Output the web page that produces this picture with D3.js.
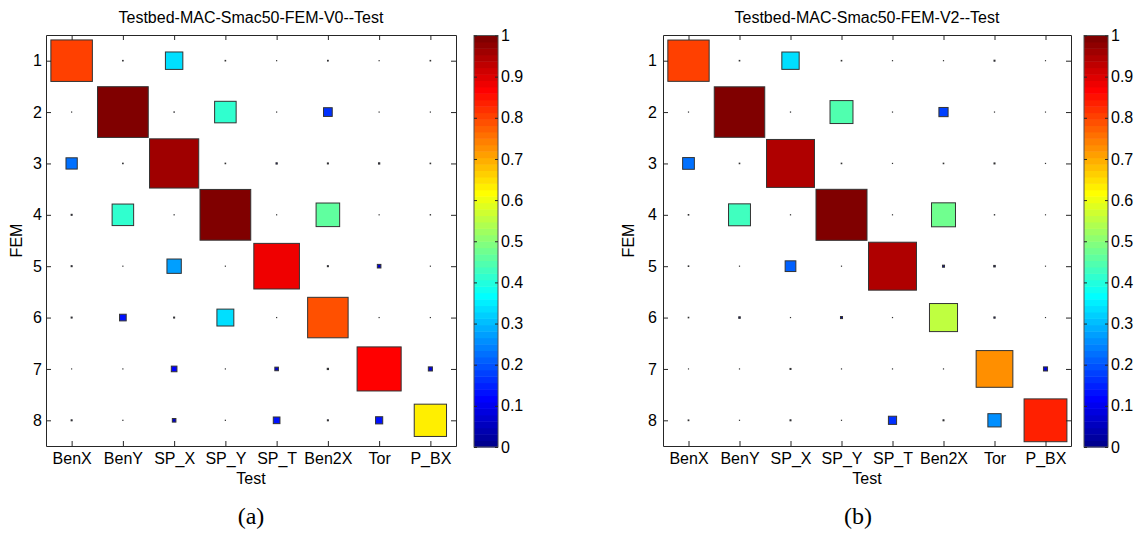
<!DOCTYPE html>
<html>
<head>
<meta charset="utf-8">
<script src="https://cdn.jsdelivr.net/npm/d3@7"></script>
<style>
  html, body { margin: 0; padding: 0; background: #fff; }
  svg { display: block; }
  text { font-family: "Liberation Sans", Arial, sans-serif; fill: #000; }
</style>
</head>
<body>
<svg id="chart" width="1142" height="535"></svg>
<script>
// ---------------- data ----------------
const tests = ["BenX", "BenY", "SP_X", "SP_Y", "SP_T", "Ben2X", "Tor", "P_BX"];
const femModes = [1, 2, 3, 4, 5, 6, 7, 8];
const colorbarTicks = [0, 0.1, 0.2, 0.3, 0.4, 0.5, 0.6, 0.7, 0.8, 0.9, 1];
const colorbarTickLabels = ["0", "0.1", "0.2", "0.3", "0.4", "0.5", "0.6", "0.7", "0.8", "0.9", "1"];

// MAC values, rows = FEM mode 1..8, columns = tests
const macV0 = [
  [0.81, 0.012, 0.34, 0.012, 0.004, 0.015, 0.004, 0.012],
  [0.004, 0.99, 0.008, 0.42, 0.004, 0.17, 0.004, 0.004],
  [0.22, 0.012, 0.96, 0.012, 0.025, 0.02, 0.025, 0.012],
  [0.02, 0.42, 0.005, 0.99, 0.004, 0.46, 0.004, 0.008],
  [0.02, 0.004, 0.28, 0.004, 0.89, 0.02, 0.07, 0.004],
  [0.02, 0.13, 0.02, 0.33, 0.004, 0.79, 0.004, 0.004],
  [0.003, 0.004, 0.11, 0.004, 0.07, 0.025, 0.86, 0.08],
  [0.02, 0.005, 0.07, 0.005, 0.13, 0.02, 0.14, 0.63]
];
const macV2 = [
  [0.81, 0.012, 0.34, 0.012, 0.004, 0.004, 0.02, 0.003],
  [0.004, 0.99, 0.005, 0.45, 0.004, 0.18, 0.004, 0.003],
  [0.23, 0.012, 0.94, 0.012, 0.004, 0.012, 0.02, 0.004],
  [0.012, 0.43, 0.005, 1.0, 0.004, 0.47, 0.008, 0.003],
  [0.012, 0.004, 0.21, 0.004, 0.94, 0.04, 0.03, 0.003],
  [0.012, 0.03, 0.004, 0.04, 0.004, 0.55, 0.025, 0.003],
  [0.003, 0.004, 0.02, 0.004, 0.004, 0.004, 0.72, 0.08],
  [0.015, 0.004, 0.02, 0.004, 0.16, 0.02, 0.26, 0.84]
];
const titles = ["Testbed-MAC-Smac50-FEM-V0--Test", "Testbed-MAC-Smac50-FEM-V2--Test"];
const captions = ["(a)", "(b)"];

// ---------------- MATLAB jet(64) colormap ----------------
function jet(m) {
  const n = Math.ceil(m / 4);
  const u = [];
  for (let i = 1; i <= n; i++) u.push(i / n);
  for (let i = 1; i <= n - 1; i++) u.push(1);
  for (let i = n; i >= 1; i--) u.push(i / n);
  const off = Math.ceil(n / 2) - (m % 4 === 1 ? 1 : 0);
  const J = Array.from({length: m}, () => [0, 0, 0]);
  const g = [], r = [], b = [];
  for (let i = 1; i <= u.length; i++) {
    const gi = off + i;
    if (gi <= m) g.push(gi);
    if (gi + n <= m) r.push(gi + n);
    if (gi - n >= 1) b.push(gi - n);
  }
  r.forEach((idx, k) => J[idx - 1][0] = u[k]);
  g.forEach((idx, k) => J[idx - 1][1] = u[k]);
  b.forEach((idx, k) => J[idx - 1][2] = u[u.length - b.length + k]);
  return J.map(c => d3.rgb(c[0] * 255, c[1] * 255, c[2] * 255).formatHex());
}
const cmap = jet(64);
const colorOf = v => cmap[Math.max(0, Math.min(63, Math.floor(v * 64)))];

// ---------------- layout ----------------
const FS = "16px";
const svg = d3.select("#chart");
const panels = [
  {data: macV0, x0: 46, x1: 456, y0: 35, y1: 446, cb0: 474, cbW: 24, femX: 22, capX: 251, yPad: 4},
  {data: macV2, x0: 663, x1: 1071, y0: 35, y1: 446, cb0: 1084, cbW: 24, femX: 634, capX: 858, yPad: 6}
];

panels.forEach((p, pi) => {
  const x = d3.scaleLinear().domain([0.5, 8.5]).range([p.x0, p.x1]);
  const y = d3.scaleLinear().domain([0.5, 8.5]).range([p.y0, p.y1]);
  const cell = x(2) - x(1);
  const g = svg.append("g");

  g.append("rect").attr("x", p.x0).attr("y", p.y0)
    .attr("width", p.x1 - p.x0).attr("height", p.y1 - p.y0)
    .attr("fill", "#fff");

  // squares: side proportional to MAC value, colour from jet
  const cells = [];
  p.data.forEach((row, ri) => row.forEach((v, ci) => cells.push({r: femModes[ri], c: ci + 1, v})));
  g.append("g").selectAll("rect").data(cells).join("rect")
    .attr("x", d => x(d.c) - d.v * cell / 2)
    .attr("y", d => y(d.r) - d.v * cell / 2)
    .attr("width", d => d.v * cell)
    .attr("height", d => d.v * cell)
    .attr("fill", d => colorOf(d.v))
    .attr("stroke", "#333")
    .attr("stroke-width", 1);

  const axStyle = sel => {
    sel.selectAll(".domain").attr("stroke", "#262626");
    sel.selectAll(".tick line").attr("stroke", "#262626");
    sel.selectAll(".tick text").style("font-size", FS).attr("fill", "#000")
      .style("font-family", '"Liberation Sans", Arial, sans-serif');
  };
  g.append("g").attr("transform", `translate(0,${p.y1})`)
    .call(d3.axisBottom(x).tickValues(femModes).tickFormat((d, i) => tests[i])
      .tickSizeInner(-5).tickSizeOuter(0).tickPadding(7))
    .call(axStyle);
  g.append("g").attr("transform", `translate(0,${p.y0})`)
    .call(d3.axisTop(x).tickValues(femModes).tickFormat("")
      .tickSizeInner(-5).tickSizeOuter(0))
    .call(axStyle);
  g.append("g").attr("transform", `translate(${p.x0},0)`)
    .call(d3.axisLeft(y).tickValues(femModes).tickFormat(d => String(d))
      .tickSizeInner(-5).tickSizeOuter(0).tickPadding(p.yPad))
    .call(axStyle);
  g.append("g").attr("transform", `translate(${p.x1},0)`)
    .call(d3.axisRight(y).tickValues(femModes).tickFormat("")
      .tickSizeInner(-5).tickSizeOuter(0))
    .call(axStyle);

  const cx = (p.x0 + p.x1) / 2;
  g.append("text").attr("x", cx).attr("y", 23).attr("text-anchor", "middle")
    .style("font-size", FS).text(titles[pi]);
  g.append("text").attr("x", cx).attr("y", 484).attr("text-anchor", "middle")
    .style("font-size", FS).text("Test");
  g.append("text").attr("transform", `translate(${p.femX},${(p.y0 + p.y1) / 2}) rotate(-90)`)
    .attr("text-anchor", "middle").style("font-size", FS).text("FEM");
  g.append("text").attr("x", p.capX).attr("y", 524).attr("text-anchor", "middle")
    .style("font-family", '"Liberation Serif", "Times New Roman", serif')
    .style("font-size", "24px").text(captions[pi]);

  // colorbar
  const cy = d3.scaleLinear().domain([0, 1]).range([447, 35.5]);
  const cb = g.append("g");
  cb.selectAll("rect").data(cmap).join("rect")
    .attr("x", p.cb0).attr("width", p.cbW)
    .attr("y", (d, i) => cy((i + 1) / 64))
    .attr("height", (d, i) => cy(i / 64) - cy((i + 1) / 64) + 0.5)
    .attr("fill", d => d);
  cb.append("rect").attr("x", p.cb0).attr("y", cy(1)).attr("width", p.cbW)
    .attr("height", cy(0) - cy(1)).attr("fill", "none").attr("stroke", "#555");
  g.append("g").attr("transform", `translate(${p.cb0 + p.cbW},0)`)
    .call(d3.axisRight(cy).tickValues(colorbarTicks).tickFormat((d, i) => colorbarTickLabels[i])
      .tickSizeInner(-3).tickSizeOuter(0).tickPadding(3))
    .call(axStyle)
    .call(s => s.select(".domain").remove());
  g.append("g").attr("transform", `translate(${p.cb0},0)`)
    .call(d3.axisLeft(cy).tickValues(colorbarTicks).tickFormat("")
      .tickSizeInner(-3).tickSizeOuter(0))
    .call(axStyle)
    .call(s => s.select(".domain").remove());
});
</script>
</body>
</html>
